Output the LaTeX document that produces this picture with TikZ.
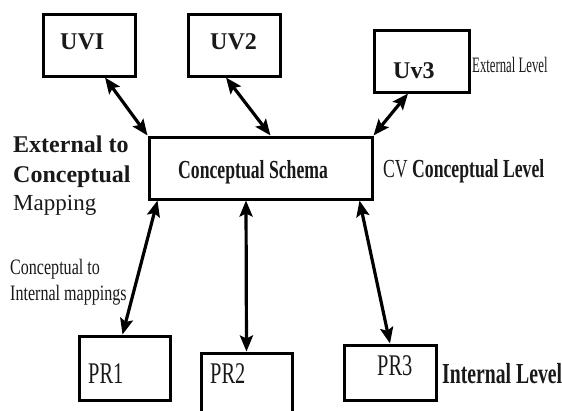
\documentclass[tikz,border=0pt]{standalone}
\usepackage{fontspec}
\setmainfont{Liberation Serif}
\newfontfamily\narrowA[FakeStretch=0.68]{Liberation Serif}
\newfontfamily\narrowB[FakeStretch=0.58]{Liberation Serif}
\newfontfamily\narrowC[FakeStretch=0.73]{Liberation Serif}
\usetikzlibrary{arrows.meta,calc}

\tikzset{
  box/.style={draw, line width=3pt, inner sep=0pt, rectangle},
  lbl/.style={anchor=base west, inner sep=0pt, text=black!90},
  link/.style={line width=3.2pt,
    {Stealth[length=16pt,width=13pt,inset=3pt]}-{Stealth[length=16pt,width=13pt,inset=3pt]}},
  bigbold/.style={font=\fontsize{24}{29}\selectfont\bfseries},
}

\begin{document}
\begin{tikzpicture}[x=1pt,y=-1pt]
  \clip (0,0) rectangle (562,410);

  % view boxes
  \node[box, minimum width=92pt, minimum height=62pt] (uv1) at (89,45) {};
  \node[box, minimum width=92pt, minimum height=62pt] (uv2) at (234,45) {};
  \node[box, minimum width=95pt, minimum height=62pt] (uv3) at (421.5,61) {};

  % conceptual schema
  \node[box, minimum width=223pt, minimum height=62pt] (cs) at (260.5,168) {};

  % physical records
  \node[box, minimum width=91pt, minimum height=64pt] (pr1) at (124.5,368) {};
  \node[box, minimum width=91pt, minimum height=70pt] (pr2) at (246.5,388) {};
  \node[box, minimum width=92pt, minimum height=55pt] (pr3) at (390,372.5) {};

  % labels inside the boxes
  \node[lbl, bigbold] (uv1t) at (60,49) {UVI};
  \node[lbl, bigbold] (uv2t) at (210,49) {UV2};
  \node[lbl, bigbold] (uv3t) at (393,78) {Uv3};
  \node[lbl, font=\fontsize{26}{30}\narrowA\bfseries] (cst) at (178,178) {Conceptual Schema};
  \node[lbl, font=\fontsize{30}{34}\narrowA] (pr1t) at (88,383) {PR1};
  \node[lbl, font=\fontsize{30}{34}\narrowA] (pr2t) at (210,383) {PR2};
  \node[lbl, font=\fontsize{30}{34}\narrowA] (pr3t) at (377,375) {PR3};

  % level names
  \node[lbl, font=\fontsize{22}{26}\narrowB] (ext) at (472,72) {External Level};
  \node[lbl, font=\fontsize{26}{30}\narrowA] (con) at (383,177) {CV \textbf{Conceptual Level}};
  \node[lbl, font=\fontsize{29}{33}\narrowA\bfseries] (int) at (442,383) {Internal Level};

  % mapping names
  \node[lbl, bigbold] (m1) at (13,152) {External to};
  \node[lbl, bigbold] (m2) at (13,182) {Conceptual};
  \node[lbl, font=\fontsize{23}{28}\selectfont] (m3) at (13,210) {Mapping};
  \node[lbl, font=\fontsize{22}{26}\narrowC] (m4) at (10,274) {Conceptual to};
  \node[lbl, font=\fontsize{22}{26}\narrowC] (m5) at (10,300) {Internal mappings};

  % two-way mappings
  \draw[link] ($(uv1.south)+(16,0)$) -- (cs.north west);
  \draw[link] ($(uv2.south)+(-8,0)$) -- ($(cs.north)+(10,0)$);
  \draw[link] ($(uv3.south)+(-13.5,0)$) -- (cs.north east);
  \draw[link] ($(cs.south west)+(10,0)$) -- ($(pr1.north)+(-2,0)$);
  \draw[link] ($(cs.south)+(-14.5,0)$) -- (pr2.north);
  \draw[link] ($(cs.south east)+(-14,0)$) -- (pr3.north);
\end{tikzpicture}
\end{document}
